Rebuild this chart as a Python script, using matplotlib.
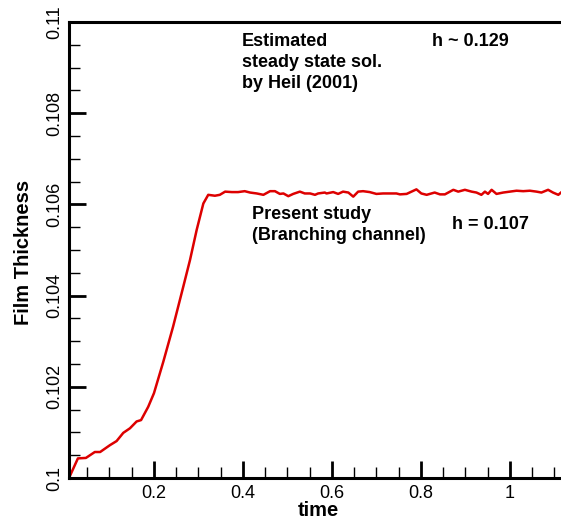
import matplotlib
matplotlib.use("Agg")
import matplotlib.pyplot as plt
from matplotlib.ticker import MultipleLocator

plt.rcParams["font.family"] = ["Liberation Sans", "DejaVu Sans"]

# film thickness vs time
time = [0.009, 0.029, 0.047, 0.067, 0.079, 0.101, 0.116, 0.131, 0.146, 0.161,
        0.171, 0.187, 0.200, 0.221, 0.243, 0.266, 0.281, 0.296, 0.311, 0.322,
        0.337, 0.348, 0.360, 0.375, 0.389, 0.404, 0.416, 0.431, 0.446, 0.461,
        0.472, 0.483, 0.491, 0.502, 0.513, 0.528, 0.539, 0.551, 0.562, 0.569,
        0.584, 0.588, 0.603, 0.614, 0.625, 0.637, 0.648, 0.659, 0.670, 0.685,
        0.700, 0.715, 0.730, 0.745, 0.753, 0.768, 0.779, 0.790, 0.801, 0.813,
        0.831, 0.843, 0.854, 0.873, 0.884, 0.899, 0.914, 0.925, 0.936, 0.944,
        0.951, 0.959, 0.970, 0.985, 1.000, 1.015, 1.030, 1.045, 1.060, 1.071,
        1.086, 1.097, 1.109, 1.115]
thickness = [0.10000, 0.10043, 0.10044, 0.10057, 0.10057, 0.10072, 0.10081, 0.10099, 0.10109, 0.10124,
             0.10127, 0.10156, 0.10186, 0.10255, 0.10332, 0.10420, 0.10478, 0.10544, 0.10602, 0.10621,
             0.10619, 0.10621, 0.10628, 0.10627, 0.10627, 0.10629, 0.10626, 0.10624, 0.10621, 0.10629,
             0.10629, 0.10623, 0.10624, 0.10618, 0.10623, 0.10628, 0.10624, 0.10624, 0.10621, 0.10624,
             0.10626, 0.10624, 0.10627, 0.10623, 0.10628, 0.10626, 0.10617, 0.10628, 0.10629, 0.10627,
             0.10623, 0.10624, 0.10624, 0.10624, 0.10622, 0.10623, 0.10628, 0.10633, 0.10624, 0.10621,
             0.10626, 0.10622, 0.10622, 0.10632, 0.10628, 0.10632, 0.10628, 0.10626, 0.10621, 0.10628,
             0.10623, 0.10632, 0.10623, 0.10626, 0.10628, 0.10630, 0.10629, 0.10630, 0.10628, 0.10626,
             0.10632, 0.10626, 0.10621, 0.10626]

xticks = [0.2, 0.4, 0.6, 0.8, 1.0]
xtick_labels = ["0.2", "0.4", "0.6", "0.8", "1"]
yticks = [0.1, 0.102, 0.104, 0.106, 0.108, 0.11]
ytick_labels = ["0.1", "0.102", "0.104", "0.106", "0.108", "0.11"]

fig = plt.figure(figsize=(5.61, 5.20), dpi=100)
ax = fig.add_axes([69 / 561, 42 / 520, 492 / 561, 456 / 520])

ax.plot(time, thickness, color="#dd0000", linewidth=1.8)

ax.set_xlim(0.009, 1.115)
ax.set_ylim(0.1, 0.11)

ax.xaxis.set_minor_locator(MultipleLocator(0.05))
ax.yaxis.set_minor_locator(MultipleLocator(0.0005))
ax.set_xticks(xticks)
ax.set_xticklabels(xtick_labels)
ax.set_yticks(yticks)
ax.set_yticklabels(ytick_labels, rotation=90, va="center")

ax.tick_params(which="both", direction="in", top=False, right=False, labelsize=13)
ax.tick_params(which="major", length=12, width=2)
ax.tick_params(which="minor", length=8, width=1)
ax.tick_params(axis="x", pad=5)
ax.tick_params(axis="y", pad=4)

for s in ["left", "bottom", "top"]:
    ax.spines[s].set_linewidth(2.2)
ax.spines["right"].set_visible(False)

fig.text(23.5 / 561, 1 - 252 / 520, "Film Thickness", rotation=90,
         ha="center", va="center", fontsize=14.5, fontweight="bold")
fig.text(318 / 561, 1 - 510 / 520, "time",
         ha="center", va="center", fontsize=14.5, fontweight="bold")

txt = dict(fontsize=13, fontweight="bold", ha="left", va="top", linespacing=1.3)
ax.text(0.398, 0.10975, "Estimated\nsteady state sol.\nby Heil (2001)", **txt)
ax.text(0.825, 0.10975, "h ~ 0.129", **txt)
ax.text(0.420, 0.10597, "Present study\n(Branching channel)", **txt)
ax.text(0.870, 0.10574, "h = 0.107", **txt)

fig.savefig("out.png", dpi=100)
